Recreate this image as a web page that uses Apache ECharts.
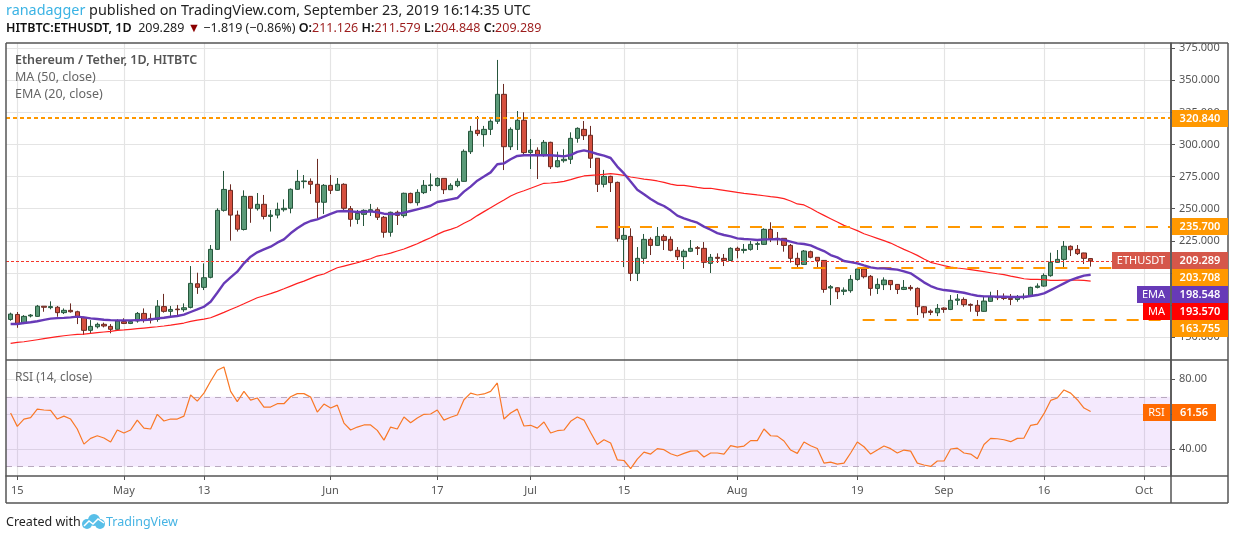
<!DOCTYPE html>
<html><head><meta charset="utf-8">
<style>html,body{margin:0;padding:0;background:#fff}#c{width:1234px;height:540px}</style>
<script src="https://cdn.jsdelivr.net/npm/echarts@6/dist/echarts.min.js"></script>
</head><body><div id="c"></div>
<script>
const opens=[163.7,167.6,160.6,166.4,166.1,174.0,172.9,173.2,169.0,170.8,
169.7,165.3,155.2,158.0,159.9,158.3,156.0,162.0,160.6,162.5,
168.4,164.5,163.7,173.7,170.0,171.8,171.3,173.1,191.5,188.7,
196.5,218.3,248.7,264.3,245.0,233.8,259.6,250.0,253.4,244.0,
245.0,249.2,250.3,265.1,271.1,271.3,269.0,255.0,268.2,264.3,
269.0,250.0,241.7,245.6,248.2,249.2,243.3,231.6,247.2,
244.6,261.9,254.7,262.5,268.0,268.0,273.6,264.8,268.0,271.3,294.4,
311.1,307.7,311.8,318.1,339.1,298.3,311.8,318.9,293.7,295.5,
291.3,301.7,282.7,287.4,288.5,304.8,311.8,307.2,289.3,269.0,
275.2,270.5,226.1,228.4,199.6,211.3,226.1,221.4,228.4,226.1,
217.6,212.6,216.8,219.6,219.1,207.4,212.1,211.3,209.7,219.1,
217.5,218.3,222.2,222.2,233.9,226.9,226.9,221.4,211.3,
206.6,216.5,212.1,209.7,188.2,188.4,185.6,186.1,194.9,203.0,197.3,
187.9,190.8,194.1,191.0,187.1,188.7,187.9,173.6,170.2,168.9,
172.6,171.5,178.6,179.3,175.4,174.7,170.0,177.8,181.4,180.9,
180.1,179.3,180.9,181.7,188.7,189.7,197.8,208.2,210.5,220.7,
218.3,215.5,211.126];
const closes=[167.9,160.6,166.1,167.1,174.0,173.2,173.7,169.0,170.8,169.7,
165.3,155.2,158.3,159.9,158.6,156.0,162.5,160.6,162.0,168.4,
163.7,163.4,174.0,170.0,171.5,171.3,172.8,191.8,188.7,196.2,
218.3,248.7,265.0,245.0,234.0,259.6,250.3,253.4,244.0,245.0,
249.5,250.3,265.1,271.3,271.6,269.0,255.0,268.2,264.3,269.0,
250.3,241.7,246.4,248.7,249.2,243.3,231.6,247.2,244.8,
262.0,254.7,262.7,268.2,268.5,273.6,264.8,268.2,271.3,294.7,310.3,
308.5,311.8,318.1,339.1,298.3,311.8,318.9,293.7,295.5,291.3,
301.7,282.7,287.4,288.5,304.8,312.6,306.9,289.3,269.0,275.2,
270.3,226.6,229.2,199.6,211.3,226.1,221.4,228.4,225.3,217.6,
212.6,216.8,219.1,219.1,208.2,212.1,211.3,209.7,219.1,217.5,
218.3,222.2,222.7,233.9,226.6,226.4,221.4,211.3,206.4,
217.0,212.1,209.5,187.1,189.2,185.3,186.6,194.9,203.0,197.0,187.9,
191.0,194.4,190.8,187.1,188.7,187.7,173.6,168.9,169.2,172.3,
171.5,178.6,179.6,175.2,174.7,170.0,178.0,181.4,180.6,180.1,
179.3,180.9,181.7,188.7,189.7,198.0,208.2,210.5,220.7,218.0,
215.0,211.3,209.289];
const highs=[169.0,169.5,167.1,167.9,175.0,174.0,177.8,174.2,172.3,176.2,
170.5,165.8,163.2,161.2,161.2,160.1,163.8,164.6,163.2,169.5,
172.3,168.4,178.8,183.6,174.2,175.0,176.2,205.3,200.1,207.4,
221.7,250.3,279.4,269.0,248.5,264.3,259.6,262.2,260.7,249.0,
254.7,257.3,265.8,280.2,276.2,273.6,288.8,269.2,276.2,273.9,
269.8,252.1,249.0,249.5,253.7,251.0,244.3,247.7,248.5,
262.5,262.5,265.1,272.3,277.5,274.4,273.6,269.8,273.6,296.2,314.5,
322.2,314.5,319.6,365.9,347.2,313.4,326.1,325.1,304.3,297.8,
303.5,302.2,294.4,296.3,309.5,313.4,318.3,314.5,289.3,280.2,
275.7,271.1,236.0,234.7,220.1,230.3,227.7,235.7,230.0,228.4,
220.1,218.3,225.6,220.9,224.0,214.7,215.2,214.7,219.9,220.4,
222.5,224.8,224.3,234.7,239.4,231.8,226.9,222.5,215.7,
217.8,217.3,212.1,210.0,190.5,188.7,188.7,198.3,203.5,203.5,198.3,
195.7,196.5,194.4,191.3,194.4,190.5,188.7,174.1,171.5,175.7,
173.1,182.7,183.5,180.9,176.2,178.8,181.4,185.3,186.6,184.0,
183.5,182.7,184.0,189.2,191.8,199.6,215.7,217.8,224.8,221.4,
221.7,215.7,211.579];
const lows=[162.7,157.2,160.1,165.3,165.8,169.7,171.6,165.8,167.9,169.0,
160.1,151.6,152.9,156.7,157.5,152.9,155.5,160.1,160.1,161.2,
161.2,160.6,161.9,169.0,165.8,167.1,169.7,172.3,183.6,186.6,
195.7,217.8,247.7,225.1,232.2,233.0,239.0,248.5,241.7,232.2,
242.5,247.7,246.4,264.6,265.8,261.4,241.2,245.9,261.4,263.8,
249.0,236.0,238.0,236.5,244.3,241.2,227.4,228.2,237.3,
243.0,254.2,252.4,261.4,263.8,267.2,261.4,264.6,266.7,271.1,292.6,
306.7,298.3,307.4,316.0,280.1,295.7,295.7,291.8,280.9,273.1,
290.5,280.9,282.2,285.9,284.8,301.4,303.5,281.7,263.0,266.6,
263.0,224.3,204.5,193.6,193.6,207.1,213.9,220.9,217.8,216.8,
210.0,203.0,216.2,213.9,203.8,199.9,207.7,205.3,209.5,211.3,
215.2,217.3,217.8,221.7,224.0,221.7,216.5,207.9,203.2,
206.1,211.3,204.3,184.5,174.9,179.6,182.7,184.5,193.9,195.7,182.2,
183.5,186.6,186.6,183.5,186.6,186.1,167.1,165.0,167.1,166.3,
168.9,171.0,174.9,173.6,169.7,166.3,169.7,177.5,178.8,178.8,
174.9,177.5,179.3,181.2,187.9,189.2,197.0,207.9,203.0,213.1,
213.9,206.9,204.848];
const ema=[160.1,160.2,160.9,161.5,162.3,163.4,164.3,164.7,164.9,165.3,
165.9,165.3,164.5,164.0,163.5,163.2,163.0,163.0,163.0,163.2,
163.2,163.7,164.5,165.0,165.8,166.4,167.4,169.5,171.5,173.6,
177.5,184.5,191.8,196.5,200.9,207.4,212.6,216.0,218.3,220.4,
223.5,226.1,230.8,234.7,238.1,240.4,241.7,243.8,245.9,247.9,
248.2,247.9,247.4,247.4,247.9,247.2,246.1,245.9,245.9,
246.9,248.2,249.5,250.8,252.3,255.2,256.2,257.3,258.3,263.3,267.2,
271.8,275.0,278.3,284.6,285.3,288.5,291.1,291.6,291.6,291.6,
291.6,291.6,291.3,290.8,291.8,294.2,295.5,294.2,292.6,291.3,
289.5,282.8,277.5,271.1,264.8,261.2,257.6,254.4,252.1,248.7,
244.6,242.5,240.7,239.1,236.0,233.6,231.0,229.5,228.4,226.9,
226.4,226.1,225.6,226.1,226.1,226.4,225.6,224.3,223.0,
222.5,221.4,219.1,217.0,213.9,212.1,209.2,208.4,207.4,205.8,204.3,
203.5,203.5,203.0,202.5,201.2,199.6,196.2,192.6,189.7,187.7,
186.6,186.1,185.3,184.5,183.2,182.2,181.7,181.7,181.4,181.4,
181.2,181.2,181.2,182.0,182.7,184.0,186.6,189.2,191.8,194.4,
196.2,197.8,198.5];
const ma=[145.1,145.8,146.3,147.1,147.9,148.7,149.5,150.3,151.0,151.6,
152.1,152.3,152.9,153.4,153.9,154.4,155.2,155.5,156.0,156.5,
157.0,157.5,158.0,158.6,159.3,160.1,160.9,162.2,163.2,164.0,
165.0,167.1,169.2,171.5,173.6,175.9,178.3,180.6,182.2,183.8,
185.6,187.6,189.7,191.8,193.6,195.7,197.8,199.1,201.7,204.0,
205.3,206.6,207.9,209.5,211.0,213.1,214.1,215.4,217.0,
218.6,220.6,222.7,225.1,227.4,230.0,232.3,233.9,235.7,238.6,241.2,
244.6,247.7,250.8,253.9,256.8,259.9,262.2,264.0,265.9,267.9,
269.8,270.0,270.5,271.3,272.6,274.2,275.5,276.0,276.3,276.8,
277.3,276.8,276.0,274.7,273.9,273.1,272.4,271.6,270.5,269.2,
268.2,268.2,267.4,266.6,265.9,265.9,265.1,264.3,263.5,262.7,
262.0,261.4,260.7,260.1,259.4,258.8,257.8,256.0,253.7,
252.9,250.3,247.4,244.8,242.2,239.6,237.0,235.0,232.9,230.5,228.7,
226.9,225.1,223.2,220.7,218.3,216.0,213.6,210.8,208.2,206.9,
205.6,204.5,203.8,203.2,202.5,201.7,200.9,200.1,199.3,198.6,
197.5,196.5,195.4,194.9,194.9,194.7,194.1,194.1,194.4,194.4,
194.4,194.1,193.6];
const rsi=[60.7,53.0,57.2,58.0,62.9,62.4,62.2,57.2,58.9,57.2,
51.5,42.8,46.1,47.6,46.3,44.0,50.9,49.2,50.9,56.6,
52.0,51.5,59.9,56.1,57.2,57.2,58.9,71.0,67.5,72.1,
78.9,85.2,87.1,73.1,67.2,73.1,68.1,69.3,64.1,64.1,
66.0,66.0,70.0,71.8,71.8,69.8,61.2,65.8,63.5,65.2,
54.9,50.9,52.6,53.8,53.8,50.7,45.1,52.6,51.5,58.4,
55.1,57.8,59.9,60.1,62.4,56.6,58.2,59.5,68.3,72.1,
71.0,71.6,73.1,77.9,57.2,60.7,62.9,53.2,53.6,52.0,
55.5,49.2,50.5,50.9,55.9,58.4,56.6,49.5,42.6,45.3,
43.4,33.8,33.4,28.7,34.2,38.2,37.1,40.2,39.6,37.3,
36.0,37.5,38.8,39.0,35.4,37.7,37.7,37.1,41.9,41.1,
41.7,44.8,44.8,51.5,47.6,47.4,44.6,39.4,37.5,44.0,
41.9,40.3,31.9,32.5,31.3,31.9,37.7,44.0,41.3,37.1,
39.4,41.7,40.2,37.7,39.4,38.8,31.9,30.8,30.0,33.1,
33.1,40.0,40.5,37.7,37.1,34.4,42.6,46.1,45.9,45.3,
44.2,46.1,46.3,53.6,54.3,60.3,67.9,69.3,73.9,72.1,
68.3,63.5,61.56];
const tickDays=[1,17,29,48,64,78,92,109,127,140,155,170];
const tickLabels=['15','May','13','Jun','17','Jul','15','Aug','19','Sep','16','Oct'];
const priceTicks=[150,175,200,225,250,275,300,325,350,375];
const rsiTicks=[40,60,80];
const rsiLabelTicks=[40,80];
const levelTop=320.84, levelMid=235.7, levelLow=203.708, levelBase=163.755, lastPrice=209.289;

const FONT='"Noto Sans",sans-serif';
const xMin=-0.69,xMax=174.05;
const LABEL='#555';
const GRID='#e4e4e4';
function xAxisBase(idx,show){return {type:'value',gridIndex:idx,min:xMin,max:xMax,
  axisLine:{show:show,onZero:false,lineStyle:{color:'#555',width:1.5}},
  axisTick:{show:show,length:4,customValues:tickDays,lineStyle:{color:'#555'}},
  axisLabel:{show:show,customValues:tickDays,hideOverlap:false,showMinLabel:true,showMaxLabel:true,margin:9,color:LABEL,fontFamily:FONT,fontSize:11,
    formatter:v=>tickLabels[tickDays.indexOf(v)]||''},
  splitLine:{show:true,customValues:tickDays,lineStyle:{color:GRID,width:1.2}}};}
const dash=(name,v,from,to,color,type,w)=>[{coord:[from,v],lineStyle:{color:color,type:type,width:w}},{coord:[to,v]}];
function tag(x,y,w,h,fill,text,bold){return {type:'group',z:100,children:[
 {type:'rect',z:100,shape:{x:x,y:y,width:w,height:h},style:{fill:fill}},
 {type:'text',z:101,x:x+w/2,y:y+h/2+0.5,style:{text:text,fill:'#fff',font:(bold?'600 ':'')+'11px '+FONT,align:'center',verticalAlign:'middle'}}]};}
const line=(x1,y1,x2,y2)=>({type:'line',z:90,shape:{x1,y1,x2,y2},style:{stroke:'#555',lineWidth:1.5}});
const txt=(x,y,s,f,c)=>({type:'text',z:60,x:x,y:y,style:{text:s,font:f,fill:c,verticalAlign:'middle'}});
const blob=(cx,cy,r)=>({type:'circle',z:60,shape:{cx,cy,r},style:{fill:'#58bfe8'}});

const chart=echarts.init(document.getElementById('c'),null,{renderer:'canvas'});
chart.setOption({
 animation:false,backgroundColor:'#fff',
 title:[{text:'{a|ranadagger}{b| published on TradingView.com, September 23, 2019 16:14:35 UTC}',left:6,top:4,padding:0,
   textStyle:{fontWeight:'normal',rich:{a:{fontFamily:FONT,fontSize:14.4,fontWeight:'normal',color:'#3bb3e4'},b:{fontFamily:FONT,fontSize:14.4,fontWeight:'normal',color:'#222'}}}},
  {text:'{k|HITBTC:ETHUSDT, 1D}{b|  209.289 }{t|▼}{b| −1.819 (−0.86%) }{k|O:}{r|211.126 }{k|H:}{r|211.579 }{k|L:}{r|204.848 }{k|C:}{r|209.289}',left:6,top:22,padding:0,
   textStyle:{fontWeight:'normal',rich:{k:{fontFamily:FONT,fontSize:12.5,fontWeight:600,color:'#111'},b:{fontFamily:FONT,fontSize:12.5,fontWeight:'normal',color:'#222'},t:{fontFamily:FONT,fontSize:12.5,fontWeight:'normal',color:'#8b0000'},r:{fontFamily:FONT,fontSize:12.5,fontWeight:'normal',color:'#9c1c1c'}}}}],
 grid:[{left:6,top:43,width:1165,height:317},{left:6,top:360,width:1165,height:116}],
 xAxis:[xAxisBase(0,false),xAxisBase(1,true)],
 yAxis:[{type:'value',gridIndex:0,position:'right',min:132.1,max:379.1,
   axisLine:{show:true,onZero:false,lineStyle:{color:'#555',width:1.5}},
   axisTick:{show:true,length:4,customValues:priceTicks,lineStyle:{color:'#555'}},
   axisLabel:{customValues:priceTicks,margin:8,color:LABEL,fontFamily:FONT,fontSize:11,formatter:v=>v.toFixed(3)},
   splitLine:{show:true,customValues:priceTicks,lineStyle:{color:GRID,width:1.2}}},
  {type:'value',gridIndex:1,position:'right',min:24.5,max:91.1,
   axisLine:{show:true,onZero:false,lineStyle:{color:'#555',width:1.5}},
   axisTick:{show:true,length:4,customValues:rsiTicks,lineStyle:{color:'#555'}},
   axisLabel:{customValues:rsiLabelTicks,margin:8,color:LABEL,fontFamily:FONT,fontSize:11,formatter:v=>v.toFixed(2)},
   splitLine:{show:true,customValues:rsiTicks,lineStyle:{color:GRID,width:1.2}}}],
 series:[
  {type:'candlestick',name:'ETHUSDT',xAxisIndex:0,yAxisIndex:0,barWidth:5,
   encode:{x:0,y:[1,2,3,4]},
   data:opens.map((o,i)=>[i,o,closes[i],lows[i],highs[i]]),
   itemStyle:{color:'#5a9a78',color0:'#d5503f',borderColor:'#26563c',borderColor0:'#6b2a22',borderWidth:1},z:3},
  {type:'line',name:'MA',xAxisIndex:0,yAxisIndex:0,data:ma.map((v,i)=>[i,v]),showSymbol:false,symbol:'none',
   lineStyle:{color:'#ff2020',width:1.2},z:4,
   markLine:{silent:true,symbol:'none',label:{show:false},animation:false,data:[
     dash('a',levelTop,xMin,xMax,'#ff9800',[4,3],2),
     dash('b',levelMid,87.8,xMax,'#ff9800',[12,10],2),
     dash('c',levelLow,113.8,166.0,'#ff9800',[12,10],2),
     dash('d',levelBase,127.8,173.2,'#ff9800',[12,10],2),
     dash('e',lastPrice,xMin,165.2,'#f4372a',[3,2],1)]}},
  {type:'line',name:'EMA',xAxisIndex:0,yAxisIndex:0,data:ema.map((v,i)=>[i,v]),showSymbol:false,symbol:'none',
   lineStyle:{color:'#673ab7',width:2.4},z:5},
  {type:'line',name:'RSI',xAxisIndex:1,yAxisIndex:1,data:rsi.map((v,i)=>[i,v]),showSymbol:false,symbol:'none',
   lineStyle:{color:'#f97826',width:1.2},z:5,
   markArea:{silent:true,itemStyle:{color:'rgba(153,51,238,0.11)'},data:[[{xAxis:xMin,yAxis:70},{xAxis:xMax,yAxis:30}]]},
   markLine:{silent:true,symbol:'none',label:{show:false},lineStyle:{color:'#b9a9bf',type:[6,5],width:1},data:[{yAxis:70},{yAxis:30}]}}
 ],
 graphic:[
  line(6,43,1228,43),line(6,43,6,503),line(1228,43,1228,503),line(6,503,1228,503),line(6,360,1228,360),line(1171,43,1171,503),line(1171,476,1228,476),
  txt(15,60,'Ethereum / Tether, 1D, HITBTC','600 12.5px '+FONT,'#555'),
  txt(15,77,'MA (50, close)','12.5px '+FONT,'#666'),
  txt(15,94,'EMA (20, close)','12.5px '+FONT,'#666'),
  txt(15,378,'RSI (14, close)','12px '+FONT,'#666'),
  tag(1172,110,56,17,'#ff9800','320.840',true),
  tag(1172,218,56,17,'#ff9800','235.700',true),
  tag(1112,252,58,17,'#d5574a','ETHUSDT',false),
  tag(1172,252,56,17,'#d5574a','209.289',true),
  tag(1172,269,56,17,'#ff9800','203.708',true),
  tag(1137,286,33,17,'#673ab7','EMA',false),
  tag(1172,286,56,17,'#673ab7','198.548',true),
  tag(1143,303,27,17,'#ff0000','MA',false),
  tag(1172,303,56,17,'#ff0000','193.570',true),
  tag(1172,320,56,17,'#ff9800','163.755',true),
  tag(1143,404,27,17,'#ff6a00','RSI',false),
  tag(1172,404,44,17,'#ff6a00','61.56',true),
  txt(6,522,'Created with','12.5px '+FONT,'#222'),
  blob(87,524,5),blob(94,520,6),blob(100,524,5),
  {type:'polyline',z:61,shape:{points:[[84,526],[89,521],[93,524],[98,519],[104,523]]},style:{stroke:'#fff',lineWidth:1.5,fill:null}},
  txt(106,522,'TradingView','12.5px '+FONT,'#46b4e4')
 ]
});
</script></body></html>
